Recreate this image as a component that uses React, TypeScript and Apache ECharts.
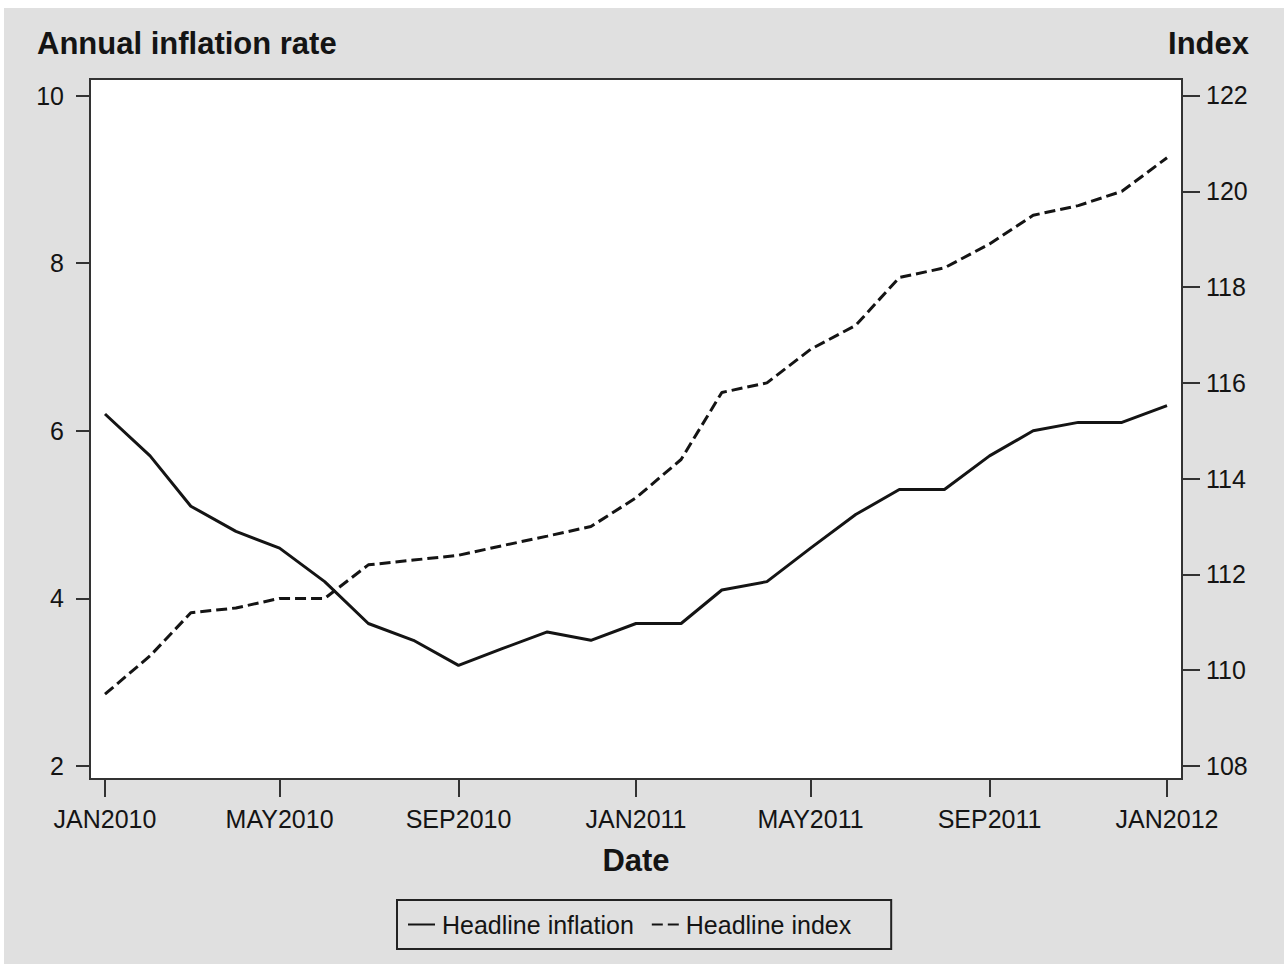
import React, { useEffect, useRef } from "react";
import * as echarts from "echarts";

const months: string[] = [
  "2010-01-01", "2010-02-01", "2010-03-01", "2010-04-01", "2010-05-01", "2010-06-01",
  "2010-07-01", "2010-08-01", "2010-09-01", "2010-10-01", "2010-11-01", "2010-12-01",
  "2011-01-01", "2011-02-01", "2011-03-01", "2011-04-01", "2011-05-01", "2011-06-01",
  "2011-07-01", "2011-08-01", "2011-09-01", "2011-10-01", "2011-11-01", "2011-12-01",
  "2012-01-01",
];

const headlineInflation: number[] = [
  6.2, 5.7, 5.1, 4.8, 4.6, 4.2, 3.7, 3.5, 3.2, 3.4, 3.6, 3.5,
  3.7, 3.7, 4.1, 4.2, 4.6, 5.0, 5.3, 5.3, 5.7, 6.0, 6.1, 6.1,
  6.3,
];

const headlineIndex: number[] = [
  109.5, 110.3, 111.2, 111.3, 111.5, 111.5, 112.2, 112.3, 112.4, 112.6, 112.8, 113.0,
  113.6, 114.4, 115.8, 116.0, 116.7, 117.2, 118.2, 118.4, 118.9, 119.5, 119.7, 120.0,
  120.7,
];

const xTickDates: string[] = [
  "2010-01-01", "2010-05-01", "2010-09-01", "2011-01-01", "2011-05-01", "2011-09-01", "2012-01-01",
];
const leftTicks: number[] = [2, 4, 6, 8, 10];
const rightTicks: number[] = [108, 110, 112, 114, 116, 118, 120, 122];

const MONTH_NAMES = ["JAN", "FEB", "MAR", "APR", "MAY", "JUN", "JUL", "AUG", "SEP", "OCT", "NOV", "DEC"];
const FONT = "'Liberation Sans', Arial, sans-serif";
const INK = "#141414";
const DAY = 86400000;

function toTime(s: string): number {
  const [y, m, d] = s.split("-").map(Number);
  return Date.UTC(y, m - 1, d);
}

export default function App() {
  const ref = useRef<HTMLDivElement>(null);

  useEffect(() => {
    if (!ref.current) return;
    const chart = echarts.init(ref.current, null, { renderer: "svg" });
    const xMin = toTime(months[0]) - 10.3 * DAY;
    const xMax = toTime(months[months.length - 1]) + 10.3 * DAY;
    const tickTimes = xTickDates.map(toTime);

    chart.setOption({
      animation: false,
      backgroundColor: "#e0e0e0",
      textStyle: { fontFamily: FONT },
      grid: {
        left: 86,
        right: 102,
        top: 71,
        bottom: 185,
        show: true,
        backgroundColor: "#ffffff",
        borderColor: "#333333",
        borderWidth: 2,
        containLabel: false,
        outerBoundsMode: "none",
      },
      graphic: [
        {
          type: "text",
          left: 33,
          top: 20,
          style: {
            text: "Annual inflation rate",
            font: `bold 31px ${FONT}`,
            fill: INK,
          },
        },
        {
          type: "text",
          right: 35,
          top: 20,
          style: {
            text: "Index",
            font: `bold 31px ${FONT}`,
            fill: INK,
          },
        },
      ],
      legend: {
        left: 393,
        top: 892,
        orient: "horizontal",
        padding: [12, 40, 12, 10],
        itemGap: 17,
        itemWidth: 27,
        itemHeight: 14,
        borderColor: "#222222",
        borderWidth: 2,
        itemStyle: { opacity: 0 },
        textStyle: { fontSize: 25, color: INK, fontFamily: FONT, padding: [0, 0, 0, 2] },
        data: ["Headline inflation", "Headline index"],
      },
      xAxis: {
        type: "value",
        min: xMin,
        max: xMax,
        name: "Date",
        nameLocation: "middle",
        nameGap: 66,
        nameTextStyle: { fontSize: 31, fontWeight: "bold", color: INK, fontFamily: FONT },
        axisLine: { show: true, lineStyle: { color: "#333333", width: 2 } },
        axisTick: {
          show: true,
          length: 18,
          customValues: tickTimes,
          lineStyle: { color: "#333333", width: 2 },
        },
        axisLabel: {
          customValues: tickTimes,
          margin: 27,
          fontSize: 25,
          color: INK,
          fontFamily: FONT,
          formatter: (v: number) => {
            const d = new Date(v);
            return MONTH_NAMES[d.getUTCMonth()] + d.getUTCFullYear();
          },
        },
        splitLine: { show: false },
      },
      yAxis: [
        {
          type: "value",
          position: "left",
          min: 1.845,
          max: 10.197,
          axisLine: { show: true, lineStyle: { color: "#333333", width: 2 } },
          axisTick: {
            show: true,
            length: 14,
            customValues: leftTicks,
            lineStyle: { color: "#333333", width: 2 },
          },
          axisLabel: {
            customValues: leftTicks,
            margin: 26,
            fontSize: 25,
            color: INK,
            fontFamily: FONT,
          },
          splitLine: { show: false },
        },
        {
          type: "value",
          position: "right",
          min: 107.729,
          max: 122.344,
          axisLine: { show: true, lineStyle: { color: "#333333", width: 2 } },
          axisTick: {
            show: true,
            length: 18,
            customValues: rightTicks,
            lineStyle: { color: "#333333", width: 2 },
          },
          axisLabel: {
            customValues: rightTicks,
            margin: 24,
            fontSize: 25,
            color: INK,
            fontFamily: FONT,
          },
          splitLine: { show: false },
        },
      ],
      series: [
        {
          name: "Headline inflation",
          type: "line",
          yAxisIndex: 0,
          symbol: "none",
          showSymbol: false,
          color: INK,
          lineStyle: { color: INK, width: 3, type: "solid" },
          data: months.map((m, i) => [toTime(m), headlineInflation[i]]),
        },
        {
          name: "Headline index",
          type: "line",
          yAxisIndex: 1,
          symbol: "none",
          showSymbol: false,
          color: INK,
          lineStyle: { color: INK, width: 3, type: [11, 5] },
          data: months.map((m, i) => [toTime(m), headlineIndex[i]]),
        },
      ],
    });

    return () => chart.dispose();
  }, []);

  return (
    <div
      ref={ref}
      style={{ position: "absolute", left: 4, top: 8, width: 1280, height: 956 }}
    />
  );
}
